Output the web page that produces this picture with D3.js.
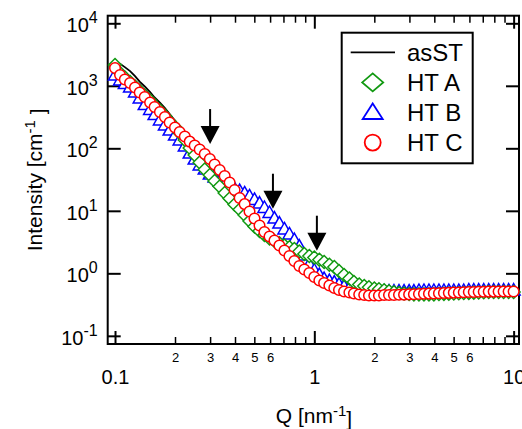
<!DOCTYPE html>
<html>
<head>
<meta charset="utf-8">
<script src="https://cdn.jsdelivr.net/npm/d3@7"></script>
<style>
  body { margin: 0; background: #fff; }
  text { font-family: "Liberation Sans", Arial, Helvetica, sans-serif; fill: #000; }
</style>
</head>
<body>
<svg id="chart" width="522" height="429"></svg>
<script>
// Q grid shared by all four curves (nm^-1)
const q = [
  0.1, 0.106, 0.112, 0.119, 0.126, 0.133, 0.141, 0.150, 0.158, 0.168,
  0.178, 0.188, 0.2, 0.211, 0.224, 0.237, 0.251, 0.266, 0.282, 0.299,
  0.316, 0.335, 0.355, 0.376, 0.398, 0.422, 0.447, 0.473, 0.501, 0.531,
  0.562, 0.596, 0.631, 0.668, 0.708, 0.750, 0.794, 0.841, 0.891, 0.944,
  1.0, 1.06, 1.12, 1.19, 1.26, 1.33, 1.41, 1.50, 1.58, 1.68,
  1.78, 1.88, 2.0, 2.11, 2.24, 2.37, 2.51, 2.66, 2.82, 2.99,
  3.16, 3.35, 3.55, 3.76, 3.98, 4.22, 4.47, 4.73, 5.01, 5.31,
  5.62, 5.96, 6.31, 6.68, 7.08, 7.50, 7.94, 8.41, 8.91, 9.44,
  10.0
];

const asST = [
  2400, 2250, 1990, 1720, 1430, 1170, 975, 795, 650, 540,
  440, 352, 275, 212, 163, 127, 97.5, 78.1, 66.2, 55.1,
  43.3, 34.1, 27.3, 20.7, 15.7, 12.6, 10.5, 8.57, 6.74, 5.41,
  4.33, 3.47, 2.89, 2.40, 2.07, 1.79, 1.57, 1.41, 1.26, 1.15,
  1.03, 0.905, 0.796, 0.70, 0.638, 0.604, 0.582, 0.561, 0.541, 0.531,
  0.521, 0.512, 0.512, 0.51, 0.51, 0.51, 0.51, 0.51, 0.51, 0.51,
  0.51, 0.51, 0.51, 0.51, 0.51, 0.51, 0.51, 0.51, 0.51, 0.51,
  0.51, 0.51, 0.51, 0.51, 0.51, 0.51, 0.51, 0.51, 0.51, 0.51,
  0.51
];

const htA = [
  2150, 1603, 1358, 1150, 975, 826, 700, 582, 484, 403,
  329, 268, 219, 176, 136, 101, 78, 59.3, 45.8, 37.4,
  30.0, 24.5, 19.3, 15.7, 12.6, 10.5, 8.57, 6.87, 5.61, 4.75,
  4.10, 3.60, 3.29, 3.02, 2.79, 2.61, 2.45, 2.23, 2.04, 1.89,
  1.79, 1.65, 1.52, 1.37, 1.26, 1.09, 0.94, 0.826, 0.726, 0.662,
  0.626, 0.597, 0.571, 0.555, 0.535, 0.515, 0.497, 0.484, 0.475, 0.467,
  0.461, 0.461, 0.461, 0.461, 0.461, 0.467, 0.47, 0.473, 0.477, 0.48,
  0.484, 0.487, 0.491, 0.494, 0.499, 0.502, 0.502, 0.502, 0.502, 0.502,
  0.502
];

const htB = [
  1489, 1239, 1088, 957, 796, 638, 502, 418, 347, 284,
  236, 196, 163, 136, 109, 84.1, 67.4, 54.1, 46.6, 38.8,
  34.7, 30.0, 26.8, 24.5, 22.7, 21.1, 19.3, 17.3, 15.2, 13.3,
  11.3, 9.40, 7.67, 6.38, 5.12, 4.26, 3.47, 2.73, 1.96, 1.41,
  1.13, 0.957, 0.826, 0.767, 0.726, 0.674, 0.626, 0.593, 0.561, 0.541,
  0.531, 0.521, 0.521, 0.521, 0.521, 0.521, 0.521, 0.521, 0.521, 0.521,
  0.521, 0.531, 0.531, 0.531, 0.531, 0.531, 0.531, 0.531, 0.531, 0.531,
  0.531, 0.541, 0.541, 0.541, 0.541, 0.541, 0.541, 0.541, 0.541, 0.541,
  0.541
];

const htC = [
  1930, 1490, 1262, 1109, 939, 781, 662, 541, 458, 381,
  317, 259, 215, 182, 154, 128, 111, 95.7, 81.1, 67.4,
  55.1, 45.0, 36.0, 28.4, 21.5, 16.0, 12.8, 9.74, 7.53, 5.82,
  4.58, 3.88, 3.35, 2.79, 2.32, 1.89, 1.57, 1.31, 1.15, 1.01,
  0.873, 0.767, 0.70, 0.638, 0.582, 0.541, 0.512, 0.493, 0.475, 0.458,
  0.45, 0.441, 0.441, 0.441, 0.45, 0.45, 0.45, 0.453, 0.456, 0.46,
  0.463, 0.467, 0.47, 0.473, 0.477, 0.48, 0.484, 0.487, 0.491, 0.494,
  0.499, 0.502, 0.502, 0.506, 0.506, 0.51, 0.51, 0.511, 0.511, 0.511,
  0.511
];

// arrows: Q position and intensity at the arrow tip
const arrowQ = [0.3, 0.62, 1.03];
const arrowTip = [117, 10.8, 2.3];

const xMajor = [0.1, 1, 10];
const xMinor = [0.2, 0.3, 0.4, 0.5, 0.6, 0.7, 0.8, 0.9, 2, 3, 4, 5, 6, 7, 8, 9];
const xMinorLabeled = [0.2, 0.3, 0.4, 0.5, 0.6, 2, 3, 4, 5, 6];
const yMajor = [0.1, 1, 10, 100, 1000, 10000];

const legendNames = ['asST', 'HT A', 'HT B', 'HT C'];

const green = '#119911', blue = '#0000ff', red = '#ff0000';

const svg = d3.select('#chart');
svg.append('rect').attr('width', 522).attr('height', 429).attr('fill', '#fff');

const x = d3.scaleLog().domain([0.0919, 10.64]).range([107.7, 519]);
const y = d3.scaleLog().domain([0.074, 13230]).range([344, 15.7]);
const pLeft = 107.7, pRight = 519, pTop = 15.7, pBottom = 344;

// marker shapes
const diamond = (w, h) => `M0,${-h}L${w},0L0,${h}L${-w},0Z`;
const triangle = (w, up, down) => `M0,${-up}L${w},${down}L${-w},${down}Z`;

const stripDomain = g => g.select('.domain').remove();

// bottom axis
svg.append('g')
  .attr('transform', `translate(0,${pBottom})`)
  .call(d3.axisBottom(x).tickValues(xMajor).tickSize(-13).tickPadding(26)
    .tickFormat(d => d >= 1 ? d3.format('d')(d) : d))
  .call(stripDomain)
  .call(g => g.selectAll('text').attr('font-size', 20).attr('font-family', null))
  .call(g => g.selectAll('line').attr('stroke-width', 2));

svg.append('g')
  .attr('transform', `translate(0,${pBottom})`)
  .call(d3.axisBottom(x).tickValues(xMinor).tickSize(-7).tickFormat(''))
  .call(stripDomain)
  .call(g => g.selectAll('line').attr('stroke-width', 1.5));

svg.append('g')
  .attr('transform', `translate(0,${pBottom})`)
  .call(d3.axisBottom(x).tickValues(xMinorLabeled).tickSize(0).tickPadding(9)
    .tickFormat(d => Math.round(d / Math.pow(10, Math.floor(Math.log10(d) + 1e-9)))))
  .call(stripDomain)
  .call(g => g.selectAll('text').attr('font-size', 13).attr('font-family', null));

// top axis
svg.append('g')
  .attr('transform', `translate(0,${pTop})`)
  .call(d3.axisTop(x).tickValues(xMajor).tickSize(-13).tickFormat(''))
  .call(stripDomain)
  .call(g => g.selectAll('line').attr('stroke-width', 2));

svg.append('g')
  .attr('transform', `translate(0,${pTop})`)
  .call(d3.axisTop(x).tickValues(xMinor).tickSize(-7).tickFormat(''))
  .call(stripDomain)
  .call(g => g.selectAll('line').attr('stroke-width', 1.5));

// left axis
svg.append('g')
  .attr('transform', `translate(${pLeft},0)`)
  .call(d3.axisLeft(y).tickValues(yMajor).tickSize(-13).tickPadding(10).tickFormat(''))
  .call(stripDomain)
  .call(g => g.selectAll('line').attr('stroke-width', 2))
  .call(g => g.selectAll('.tick text').each(function(d) {
    const t = d3.select(this).attr('font-size', 20).attr('font-family', null).attr('dy', '0.42em');
    t.append('tspan').text('10');
    t.append('tspan').attr('dy', '-0.55em').attr('font-size', 16)
      .text(Math.round(Math.log10(d)));
  }));

// right axis
svg.append('g')
  .attr('transform', `translate(${pRight},0)`)
  .call(d3.axisRight(y).tickValues(yMajor).tickSize(-13).tickFormat(''))
  .call(stripDomain)
  .call(g => g.selectAll('line').attr('stroke-width', 2));

// frame
svg.append('rect')
  .attr('x', pLeft).attr('y', pTop)
  .attr('width', pRight - pLeft).attr('height', pBottom - pTop)
  .attr('fill', 'none').attr('stroke', '#000').attr('stroke-width', 2);

// asST (drawn under the markers)
const line = d3.line().x(d => x(d[0])).y(d => y(d[1]));
svg.append('path')
  .attr('d', line(q.map((d, i) => [d, asST[i]])))
  .attr('fill', 'none').attr('stroke', '#000').attr('stroke-width', 1.8);

// HT B
svg.append('g').selectAll('path')
  .data(q.map((d, i) => [d, htB[i]]))
  .join('path')
  .attr('transform', d => `translate(${x(d[0])},${y(d[1])})`)
  .attr('d', triangle(6.5, 6.5, 5))
  .attr('fill', '#fff').attr('stroke', blue).attr('stroke-width', 1.5);

// HT A
svg.append('g').selectAll('path')
  .data(q.map((d, i) => [d, htA[i]]))
  .join('path')
  .attr('transform', d => `translate(${x(d[0])},${y(d[1])})`)
  .attr('d', diamond(6.5, 6.5))
  .attr('fill', '#fff').attr('stroke', green).attr('stroke-width', 1.5);

// HT C
svg.append('g').selectAll('circle')
  .data(q.map((d, i) => [d, htC[i]]))
  .join('circle')
  .attr('cx', d => x(d[0])).attr('cy', d => y(d[1])).attr('r', 5.3)
  .attr('fill', '#fff').attr('stroke', red).attr('stroke-width', 1.5);

// arrows
arrowQ.forEach((a, i) => {
  const ax = x(a), ay = y(arrowTip[i]);
  svg.append('line')
    .attr('x1', ax).attr('x2', ax).attr('y1', ay - 35).attr('y2', ay - 17)
    .attr('stroke', '#000').attr('stroke-width', 2);
  svg.append('path')
    .attr('d', `M${ax - 9.5},${ay - 18}L${ax + 9.5},${ay - 18}L${ax},${ay}Z`)
    .attr('fill', '#000');
});

// legend
const lg = svg.append('g');
lg.append('rect')
  .attr('x', 341.7).attr('y', 32.7).attr('width', 131).attr('height', 130.6)
  .attr('fill', '#fff').attr('stroke', '#000').attr('stroke-width', 2);
const rowY = i => 52.3 + i * 30.1;
lg.append('line')
  .attr('x1', 350.7).attr('x2', 395).attr('y1', rowY(0)).attr('y2', rowY(0))
  .attr('stroke', '#000').attr('stroke-width', 1.8);
lg.append('path').attr('transform', `translate(372.7,${rowY(1)})`)
  .attr('d', diamond(10.5, 9)).attr('fill', '#fff').attr('stroke', green).attr('stroke-width', 1.8);
lg.append('path').attr('transform', `translate(372.7,${rowY(2)})`)
  .attr('d', triangle(10, 9, 6.5)).attr('fill', '#fff').attr('stroke', blue).attr('stroke-width', 1.8);
lg.append('circle').attr('cx', 372.7).attr('cy', rowY(3)).attr('r', 8)
  .attr('fill', '#fff').attr('stroke', red).attr('stroke-width', 1.8);
lg.selectAll('text.name')
  .data(legendNames)
  .join('text')
  .attr('class', 'name')
  .attr('x', 407).attr('y', (d, i) => rowY(i) + 8.5)
  .attr('font-size', 24)
  .text(d => d);

// axis titles
const xt = svg.append('text')
  .attr('x', 314).attr('y', 423).attr('text-anchor', 'middle').attr('font-size', 21);
xt.append('tspan').text('Q [nm');
xt.append('tspan').attr('dy', '-0.5em').attr('font-size', 15).text('-1');
xt.append('tspan').attr('dy', '0.5em').text(']');

const yt = svg.append('text')
  .attr('transform', `translate(42,${(pTop + pBottom) / 2}) rotate(-90)`)
  .attr('text-anchor', 'middle').attr('font-size', 21);
yt.append('tspan').text('Intensity [cm');
yt.append('tspan').attr('dy', '-0.5em').attr('font-size', 15).text('-1');
yt.append('tspan').attr('dy', '0.5em').text(' ]');
</script>
</body>
</html>
